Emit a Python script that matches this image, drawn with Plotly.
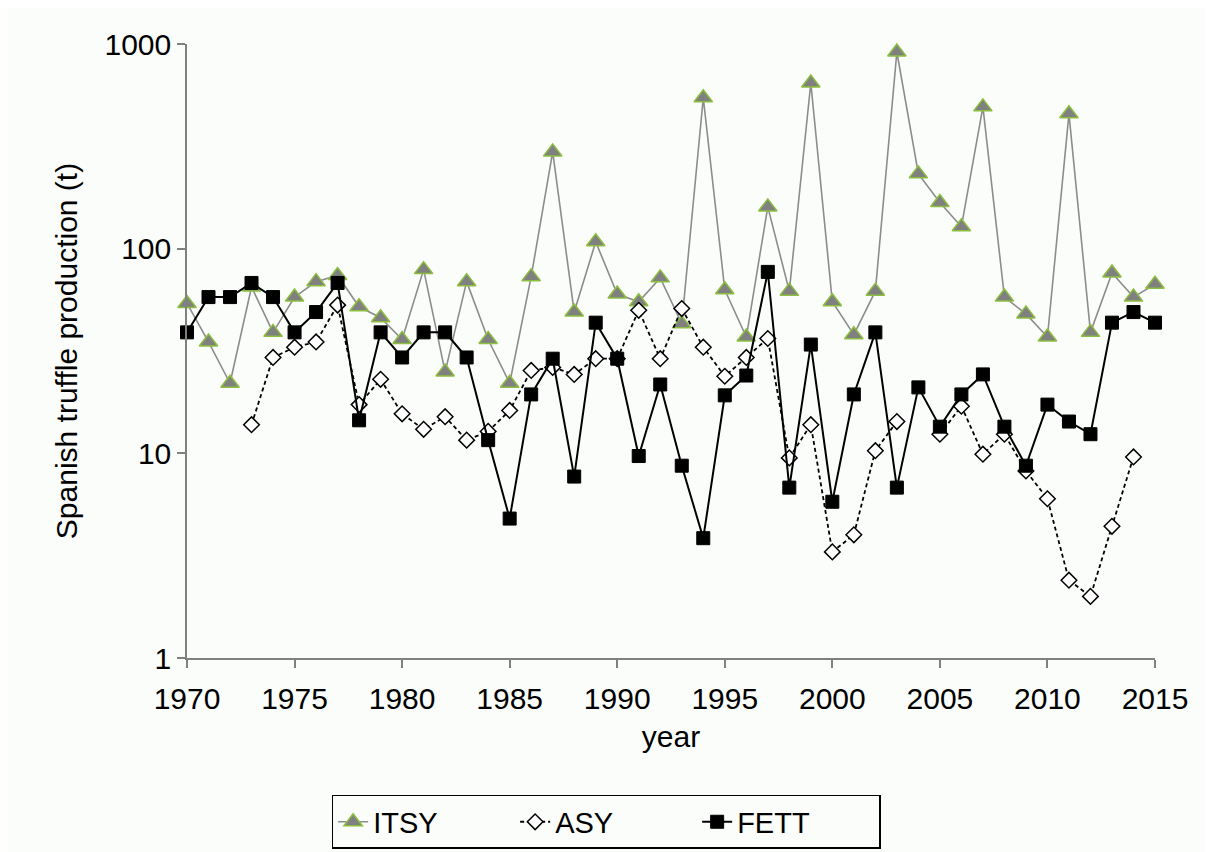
import plotly.graph_objects as go

years = list(range(1970, 2016))

itsy = [54, 35, 22, 65, 39, 58, 69, 74, 52, 46, 36, 79, 25, 69, 36, 22, 73, 297, 49, 108,
        60, 55, 72, 43, 546, 63, 37, 160, 62, 645, 55, 38, 62, 914, 232, 168, 128, 493, 58, 48,
        37, 456, 39, 76, 58, 67]

asy = [None, None, None, 13.8, 29.4, 33, 35, 53, 17.3, 23, 15.6, 13.1, 15.1, 11.6, 12.8, 16.2,
       25.4, 26.3, 24.3, 29, 29, 50, 29, 51, 33, 23.8, 29.4, 36.4, 9.5, 13.8, 3.3, 4.0, 10.3,
       14.3, None, 12.4, 17, 9.9, 12.4, 8.2, 6.0, 2.4, 2.0, 4.4, 9.6, None]

fett = [39, 58, 58, 68, 58, 39, 49, 68, 14.5, 39, 29.4, 39, 39, 29.4, 11.6, 4.8, 19.4, 29, 7.7,
        43.5, 29, 9.7, 21.7, 8.7, 3.85, 19.2, 24, 77, 6.8, 34, 5.8, 19.4, 39, 6.8, 21, 13.5,
        19.4, 24.3, 13.5, 8.7, 17.3, 14.3, 12.4, 43.5, 49, 43.5]

ytick_vals = [1, 10, 100, 1000]
ytick_text = ["1", "10", "100", "1000"]
xtick_vals = [1970, 1975, 1980, 1985, 1990, 1995, 2000, 2005, 2010, 2015]

fig = go.Figure()
fig.add_trace(go.Scatter(
    x=years, y=itsy, name="ITSY", mode="lines+markers",
    line=dict(color="#8c8c8c", width=1.6),
    marker=dict(symbol="triangle-up", size=16, color="#808080",
                line=dict(color="#8cbf3f", width=1.5)),
    cliponaxis=False,
))
fig.add_trace(go.Scatter(
    x=years, y=asy, name="ASY", mode="lines+markers",
    line=dict(color="black", width=1.8, dash="4px,3px"),
    marker=dict(symbol="diamond", size=12, color="white",
                line=dict(color="black", width=1.5)),
    connectgaps=False, cliponaxis=False,
))
fig.add_trace(go.Scatter(
    x=years, y=fett, name="FETT", mode="lines+markers",
    line=dict(color="black", width=2),
    marker=dict(symbol="square", size=13, color="black",
                line=dict(color="black", width=1)),
    cliponaxis=False,
))

font_family = "Liberation Sans, Arial, sans-serif"
bg = "#fbfdfb"
fig.update_layout(
    width=1214, height=852,
    margin=dict(l=179, r=67, t=36, b=201),
    paper_bgcolor=bg, plot_bgcolor=bg,
    font=dict(family=font_family, size=30, color="black"),
    showlegend=True,
    legend=dict(
        orientation="h", x=0.433, xanchor="center", y=-0.221, yanchor="top",
        bordercolor="black", borderwidth=1.5, bgcolor=bg,
        font=dict(size=29), entrywidth=137, entrywidthmode="pixels",
    ),
)
fig.update_xaxes(
    range=[1970, 2015], tickvals=xtick_vals, showgrid=False, zeroline=False,
    showline=True, linecolor="#808080", linewidth=1.5,
    ticks="outside", ticklen=8, tickcolor="#808080", tickwidth=1.5,
    tickfont=dict(size=30), ticklabelstandoff=5, automargin=False,
    title=dict(text="year", standoff=12, font=dict(size=30)),
)
fig.update_yaxes(
    type="log", range=[0, 3], tickvals=ytick_vals, ticktext=ytick_text,
    showgrid=False, zeroline=False,
    showline=True, linecolor="#808080", linewidth=1.5,
    ticks="outside", ticklen=8, tickcolor="#808080", tickwidth=1.5,
    tickfont=dict(size=30), automargin=False,
    title=dict(text="Spanish truffle production (t)", standoff=18, font=dict(size=30)),
)

fig.write_html("out.html")
